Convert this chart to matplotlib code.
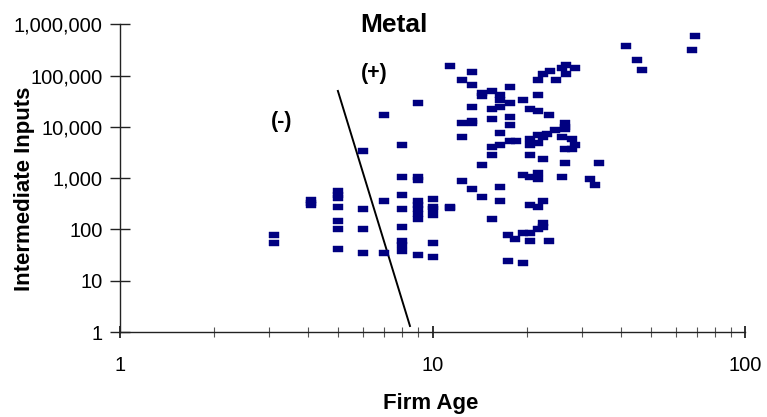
import matplotlib
matplotlib.use("Agg")
import matplotlib.pyplot as plt
from matplotlib.ticker import LogLocator, FuncFormatter, NullFormatter

plt.rcParams['font.family'] = ['Liberation Sans', 'DejaVu Sans']

firm_age = [
    3.1, 3.1,
    4.1, 4.1, 4.1,
    5, 5, 5, 5, 5, 5, 5,
    6, 6, 6, 6,
    7, 7, 7,
    8, 8, 8, 8, 8, 8, 8, 8,
    9, 9, 9, 9, 9, 9, 9, 9, 9,
    10, 10, 10, 10, 10, 10,
    11.4, 11.4, 11.4,
    12.4, 12.4, 12.4, 12.4,
    13.4, 13.4, 13.4, 13.4, 13.4, 13.4,
    14.4, 14.4, 14.4, 14.4,
    15.5, 15.5, 15.5, 15.5, 15.5, 15.5,
    16.4, 16.4, 16.4, 16.4, 16.4, 16.4, 16.4,
    17.7, 17.7, 17.7, 17.7, 17.7,
    18.5, 17.5, 17.5, 18.3,
    19.5, 19.5, 19.5, 19.5,
    20.5, 20.5, 20.5, 20.5, 20.5, 20.5, 20.5, 20.5,
    21.8, 21.8, 21.8, 21.8, 21.8, 21.8, 21.8, 21.8, 21.8,
    22.6, 22.6, 22.6, 22.6, 22.6, 22.6,
    23.6, 23.6, 23.2, 23.8, 24.8, 24.7,
    26, 26, 26,
    26.7, 26.7,
    26.5, 26.5, 26.5, 26.5, 26.5,
    28, 28, 28.6, 28.6,
    31.9, 33, 34,
    41.6, 45.1, 46.8, 67.6, 69.2,
]

intermediate_inputs = [
    78, 55,
    380, 330, 300,
    567, 474, 414, 276, 147, 103, 42,
    3430, 253, 103, 35,
    17300, 362, 35,
    4500, 1070, 475, 253, 112, 60, 50, 38,
    29600, 1070, 930, 362, 300, 253, 202, 161, 32,
    395, 276, 253, 192, 55, 29,
    265, 276, 150000,
    80000, 12000, 6400, 890,
    115000, 66000, 24800, 13000, 12000, 620,
    46500, 39000, 1820, 434,
    51000, 22700, 14500, 4100, 2870, 161,
    42500, 32600, 24800, 7700, 4500, 680, 362,
    61000, 29600, 15800, 11000, 5400,
    5400, 78, 24.4, 66,
    32600, 1170, 86, 22.3,
    22700, 5900, 4500, 2870, 1070, 86, 60, 300,
    80000, 42500, 20700, 7000, 4900, 1270, 980, 276, 103,
    105000, 6400, 2400, 362, 134, 112,
    17300, 60, 7400, 125000, 80000, 8500,
    137000, 6400, 1070,
    163000, 105000,
    12000, 10000, 9000, 3750, 2000,
    5900, 3750, 137000, 4500,
    980, 745, 2000,
    378000, 200000, 128000, 316000, 590000,
]

boundary_age = [4.98, 8.47]
boundary_inputs = [50000, 1.31]

x_ticks = [1, 10, 100]
y_ticks = [1, 10, 100, 1000, 10000, 100000, 1000000]

W, H = 767, 417
fig = plt.figure(figsize=(W / 100, H / 100), dpi=100)
ax = fig.add_axes([120 / W, 1 - 332 / H, (745 - 120) / W, (332 - 24.2) / H])

rect = [(-1, -0.5), (1, -0.5), (1, 0.5), (-1, 0.5), (-1, -0.5)]
ax.scatter(firm_age, intermediate_inputs, marker=rect, s=7.5 ** 2,
           facecolor='#000080', edgecolor='#000080', linewidths=0.3, zorder=3)
ax.plot(boundary_age, boundary_inputs, color='black', lw=1.4, zorder=2)

ax.set_xscale('log')
ax.set_yscale('log')
ax.set_xlim(1, 100)
ax.set_ylim(1, 1000000)
ax.set_xticks(x_ticks)
ax.set_yticks(y_ticks)
ax.xaxis.set_minor_locator(LogLocator(base=10, subs=range(2, 10)))
ax.xaxis.set_minor_formatter(NullFormatter())
ax.yaxis.set_minor_locator(plt.NullLocator())
fmt = FuncFormatter(lambda v, p: f"{int(round(v)):,}")
ax.xaxis.set_major_formatter(fmt)
ax.yaxis.set_major_formatter(fmt)

for s in ['top', 'right']:
    ax.spines[s].set_visible(False)
for s in ['left', 'bottom']:
    ax.spines[s].set_linewidth(1.0)
    ax.spines[s].set_color('#222222')

ax.tick_params(axis='y', which='major', direction='inout', length=14, width=1,
               labelsize=14.5, pad=5.5, color='#222222')
ax.tick_params(axis='x', which='major', direction='inout', length=9, width=1.3,
               labelsize=14.5, pad=13, color='#222222')
ax.tick_params(axis='x', which='minor', direction='inout', length=7, width=0.8,
               color='#555555')

ax.set_xlabel('Firm Age', fontsize=16, fontweight='bold')
ax.set_ylabel('Intermediate Inputs', fontsize=16, fontweight='bold')
ax.xaxis.set_label_coords((431 - 120) / 625, (332 - 403) / 307.8)
ax.xaxis.label.set_verticalalignment('center')
ax.yaxis.set_label_coords((24 - 120) / 625, (332 - 188.5) / 307.8)
ax.yaxis.label.set_verticalalignment('center')

fig.text(394 / W, 1 - 25 / H, 'Metal', fontsize=19, fontweight='bold',
         ha='center', va='center')
fig.text(374 / W, 1 - 73 / H, '(+)', fontsize=15.5, fontweight='bold',
         ha='center', va='center')
fig.text(282 / W, 1 - 121 / H, '(-)', fontsize=15.5, fontweight='bold',
         ha='center', va='center')

fig.savefig('out.png', dpi=100)
